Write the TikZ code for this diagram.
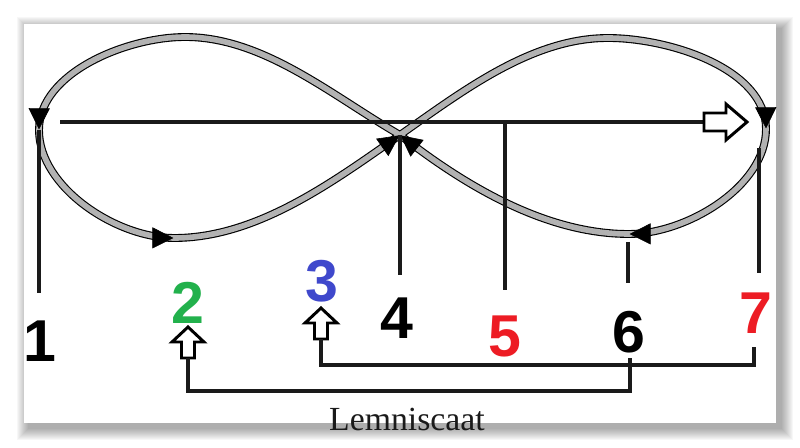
\documentclass[tikz,border=0pt]{standalone}
\usepackage{fontspec}
\setmainfont{Liberation Serif}
\setsansfont{Liberation Sans}
\usetikzlibrary{arrows.meta,decorations.markings}
\definecolor{lemgray}{HTML}{B2B2B2}
\definecolor{lemgreen}{HTML}{22B14C}
\definecolor{lemblue}{HTML}{3F48CC}
\definecolor{lemred}{HTML}{ED1C24}
\definecolor{lemdark}{HTML}{1A1A1A}
\tikzset{
  band/.style={draw=black,line width=0.8pt,double=lemgray,double distance=4pt},
  tipat/.style={decoration={markings,mark=at position -0.4pt with {\arrow{Triangle[length=15pt,width=15pt]}}},postaction={decorate}},
  stem/.style={line width=2.8pt,draw=lemdark},
  num/.style={font=\sffamily\bfseries\fontsize{42}{42}\selectfont,inner sep=0pt},
  hollow/.style={draw=black,line width=2.1pt,fill=white,line join=miter},
  uparrow/.pic={\draw[hollow] (-6.5,-31) -- (-6.5,-15) -- (-16,-15) -- (0,0) -- (16,-15) -- (6.5,-15) -- (6.5,-31) -- cycle;},
  rightarrow/.pic={\draw[hollow] (-43,-9) -- (-21,-9) -- (-21,-18) -- (0,0) -- (-21,18) -- (-21,9) -- (-43,9) -- cycle;},
}

\begin{document}
\begin{tikzpicture}[x=0.025cm,y=0.025cm,looseness=0.85]
  \useasboundingbox (0,0) rectangle (800,447);
  % card with soft shadow
  \foreach \s in {1,...,12}
    \fill[black,opacity=0.03] (29-\s,19-\s) rectangle (781+\s,418+\s);
  \fill[white] (24,24) rectangle (776,423);

  % points on the lemniscate
  \coordinate (C) at (400,312);
  \coordinate (LT) at (185,410);
  \coordinate (L) at (39,317);
  \coordinate (LB) at (174,209);
  \coordinate (RT) at (608,409);
  \coordinate (R) at (766,318);
  \coordinate (RB) at (629,213);

  \draw[band] (C) to[out=150,in=0] (LT) to[out=180,in=90] (L)
    to[out=-90,in=180] (LB) to[out=0,in=215] (C)
    to[out=35,in=180] (RT) to[out=0,in=90] (R)
    to[out=-90,in=0] (RB) to[out=180,in=-38] (C);
  \path[tipat] (LT) to[out=180,in=90] (L);
  \path[tipat] (L) to[out=-90,in=180] (LB);
  \path[tipat] (LB) to[out=0,in=215] (C);
  \path[tipat] (RT) to[out=0,in=90] (R);
  \path[tipat] (R) to[out=-90,in=0] (RB);
  \path[tipat] (RB) to[out=180,in=-38] (C);

  % axis line
  \coordinate (h0) at (60,325);
  \coordinate (h1) at (704,325);
  \coordinate (h5) at (505,325);
  \draw[stem] (h0) -- (h1);
  \pic at (747,325) {rightarrow};

  % numbers
  \node[num] (n1) at (40,106) {1};
  \node[num,text=lemgreen] (n2) at (188,144) {2};
  \node[num,text=lemblue] (n3) at (322,166) {3};
  \node[num] (n4) at (397,129) {4};
  \node[num,text=lemred] (n5) at (505,111) {5};
  \node[num] (n6) at (629,115) {6};
  \node[num,text=lemred] (n7) at (756,134) {7};

  % drop lines
  \coordinate (e1) at (39,154);
  \coordinate (e4) at (400,172);
  \coordinate (e5) at (505,157);
  \coordinate (s6) at (628,205);
  \coordinate (e6) at (628,164);
  \coordinate (s7) at (759,299);
  \coordinate (e7) at (759,174);
  \draw[stem] (L) -- (e1);
  \draw[stem] (C) -- (e4);
  \draw[stem] (h5) -- (e5);
  \draw[stem] (s6) -- (e6);
  \draw[stem] (s7) -- (e7);

  % brackets below
  \pic at (188,120) {uparrow};
  \pic at (321,139) {uparrow};
  \coordinate (b2) at (188,89);
  \coordinate (b3) at (321,108);
  \coordinate (k6) at (630,56);
  \coordinate (f6) at (630,89);
  \coordinate (k7) at (754,82);
  \coordinate (f7) at (754,100);
  \draw[stem] (b3) |- (k7) -- (f7);
  \draw[stem] (b2) |- (k6) -- (f6);

  \node[anchor=base,inner sep=0pt,text=lemdark,font=\fontsize{24}{24}\selectfont] (title) at (407,17) {Lemniscaat};
\end{tikzpicture}
\end{document}
